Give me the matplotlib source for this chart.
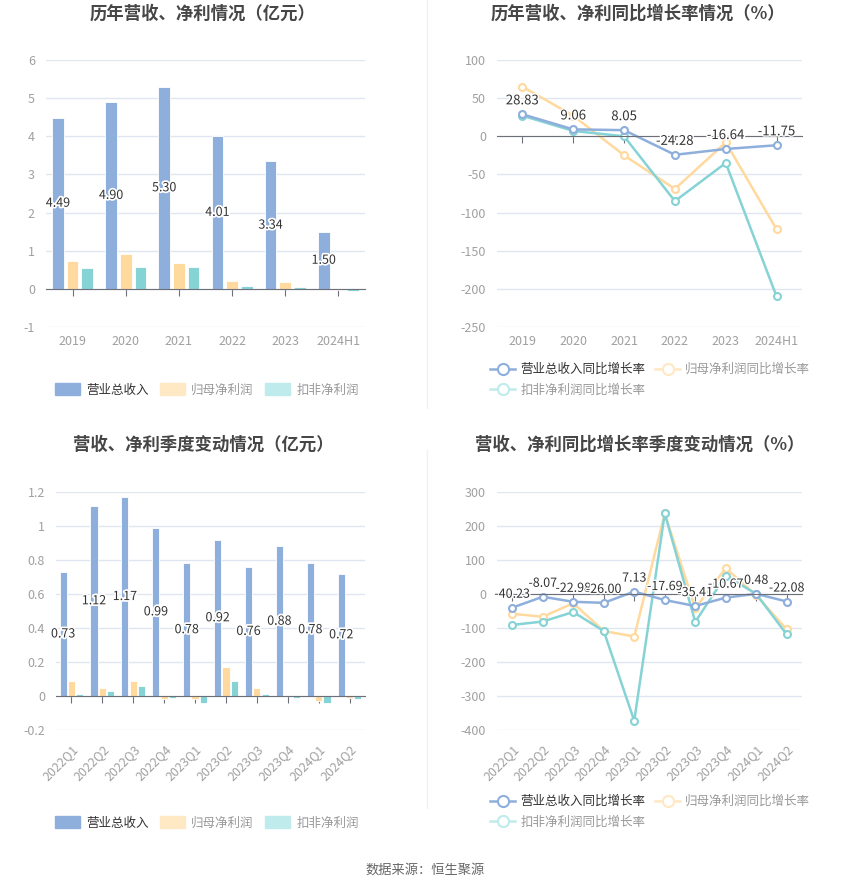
import numpy as np
import matplotlib.pyplot as plt
import matplotlib.patheffects as pe
from matplotlib.lines import Line2D
from matplotlib.patches import Patch

plt.rcParams['font.family'] = ['Noto Sans CJK SC', 'DejaVu Sans']
plt.rcParams['axes.unicode_minus'] = False

# annual data
years = ['2019', '2020', '2021', '2022', '2023', '2024H1']
revenue = [4.49, 4.90, 5.30, 4.01, 3.34, 1.50]
net_profit = [0.72, 0.92, 0.69, 0.20, 0.18, -0.02]
deducted_profit = [0.54, 0.57, 0.57, 0.07, 0.04, -0.05]

rev_growth = [28.83, 9.06, 8.05, -24.28, -16.64, -11.75]
np_growth = [65, 27, -25, -69, -8, -122]
dp_growth = [27, 7, 0, -85, -35, -210]

# quarterly data
quarters = ['2022Q1', '2022Q2', '2022Q3', '2022Q4', '2023Q1', '2023Q2',
            '2023Q3', '2023Q4', '2024Q1', '2024Q2']
q_revenue = [0.73, 1.12, 1.17, 0.99, 0.78, 0.92, 0.76, 0.88, 0.78, 0.72]
q_net_profit = [0.09, 0.05, 0.09, -0.02, -0.02, 0.17, 0.05, 0.00, -0.03, -0.01]
q_deducted = [0.01, 0.03, 0.06, -0.01, -0.04, 0.09, 0.01, -0.01, -0.04, -0.02]

q_rev_growth = [-40.23, -8.07, -22.98, -26.00, 7.13, -17.69, -35.41, -10.67, 0.48, -22.08]
q_np_growth = [-58, -67, -27, -109, -125, 237, -42, 76, -4, -104]
q_dp_growth = [-91, -81, -53, -109, -373, 237, -82, 54, 0, -119]

BLUE = '#8eaedc'
ORANGE = '#ffd99d'
TEAL = '#86d3d6'
ORANGE_L = '#ffe8c4'
TEAL_L = '#c0ebec'
GRID = '#e0e6f1'
AXIS = '#6e7079'
TICK = '#a0a0a0'
TXT = '#333333'

W, H = 850, 891
fig = plt.figure(figsize=(W / 100, H / 100), dpi=100)


def rect(l, t, r, b):
    return [l / W, 1 - b / H, (r - l) / W, (b - t) / H]


def style_axes(ax, cats, ylim, yticks, rotate=False):
    x = np.arange(len(cats))
    ax.set_xlim(-0.5, len(cats) - 0.5)
    ax.set_ylim(*ylim)
    ax.set_yticks(yticks)
    ax.set_yticklabels([f'{v:g}' for v in yticks])
    ax.tick_params(axis='y', length=0, colors=TICK, labelsize=9, pad=8)
    ax.yaxis.grid(True, color=GRID, lw=1)
    ax.set_axisbelow(True)
    for s in ['left', 'right', 'top']:
        ax.spines[s].set_visible(False)
    ax.spines['bottom'].set_position(('data', 0))
    ax.spines['bottom'].set_color(AXIS)
    ax.spines['bottom'].set_zorder(5)
    ax.set_xticks(x)
    ax.tick_params(axis='x', length=5, color=AXIS, labelbottom=False)
    sec = ax.secondary_xaxis('bottom')
    sec.spines['bottom'].set_visible(False)
    if rotate:
        sec.set_xticks(x, labels=cats, rotation=45, ha='right', va='top',
                       rotation_mode='anchor')
        sec.tick_params(length=0, pad=9, colors=TICK, labelsize=9)
    else:
        sec.set_xticks(x, labels=cats)
        sec.tick_params(length=0, pad=6, colors=TICK, labelsize=9)
    return x


def bar_chart(ax, cats, rev, npf, dpf, ylim, yticks, width, off, rotate=False):
    x = style_axes(ax, cats, ylim, yticks, rotate)
    b1 = ax.bar(x - off, rev, width, color=BLUE, edgecolor='white', lw=0.6)
    ax.bar(x, npf, width, color=ORANGE, edgecolor='white', lw=0.6)
    ax.bar(x + off, dpf, width, color=TEAL, edgecolor='white', lw=0.6)
    labels = ax.bar_label(b1, labels=[f'{v:.2f}' for v in rev],
                          label_type='center', fontsize=9, color=TXT)
    for t in labels:
        t.set_path_effects([pe.withStroke(linewidth=2.5, foreground='white')])
        t.set_zorder(6)


def line_chart(ax, cats, g1, g2, g3, ylim, yticks, rotate=False, fs=9.5):
    x = style_axes(ax, cats, ylim, yticks, rotate)
    mk = dict(marker='o', ms=5, mfc='white', mew=1.5, lw=1.8)
    ax.plot(x, g2, color=ORANGE, zorder=3, **mk)
    ax.plot(x, g3, color=TEAL, zorder=3, **mk)
    ax.plot(x, g1, color=BLUE, zorder=4, **mk)
    for xi, v in zip(x, g1):
        ax.annotate(f'{v:.2f}', (xi, v), xytext=(0, 5), textcoords='offset points',
                    ha='center', va='bottom', fontsize=fs, color=TXT, zorder=7,
                    path_effects=[pe.withStroke(linewidth=2, foreground='white')])


# top-left: annual revenue / profit
ax1 = fig.add_axes(rect(46, 60, 365, 327))
bar_chart(ax1, years, revenue, net_profit, deducted_profit, (-1, 6),
          [-1, 0, 1, 2, 3, 4, 5, 6], 0.22, 0.276)

# top-right: annual growth
ax2 = fig.add_axes(rect(497, 60, 802, 327))
line_chart(ax2, years, rev_growth, np_growth, dp_growth, (-250, 100),
           [-250, -200, -150, -100, -50, 0, 50, 100])

# bottom-left: quarterly revenue / profit
ax3 = fig.add_axes(rect(56, 492, 365, 730))
bar_chart(ax3, quarters, q_revenue, q_net_profit, q_deducted, (-0.2, 1.2),
          [-0.2, 0, 0.2, 0.4, 0.6, 0.8, 1.0, 1.2], 0.23, 0.27, rotate=True)

# bottom-right: quarterly growth
ax4 = fig.add_axes(rect(497, 492, 802, 730))
line_chart(ax4, quarters, q_rev_growth, q_np_growth, q_dp_growth, (-400, 300),
           [-400, -300, -200, -100, 0, 100, 200, 300], rotate=True, fs=9)

# titles
title_kw = dict(ha='center', va='center', fontsize=12.5, weight='bold', color='#464646')
fig.text(203 / W, 1 - 14 / H, '历年营收、净利情况（亿元）', **title_kw)
fig.text(638 / W, 1 - 14 / H, '历年营收、净利同比增长率情况（%）', **title_kw)
fig.text(203 / W, 1 - 445 / H, '营收、净利季度变动情况（亿元）', **title_kw)
fig.text(640 / W, 1 - 445 / H, '营收、净利同比增长率季度变动情况（%）', **title_kw)

# legends
bar_handles = [Patch(color=BLUE), Patch(color=ORANGE_L), Patch(color=TEAL_L)]
bar_names = ['营业总收入', '归母净利润', '扣非净利润']
line_handles = [
    Line2D([], [], color=BLUE, marker='o', ms=8, mfc='white', mew=1.5, lw=1.8),
    Line2D([], [], color=TEAL_L, marker='o', ms=8, mfc='white', mew=1.5, lw=1.8),
    Line2D([], [], color=ORANGE_L, marker='o', ms=8, mfc='white', mew=1.5, lw=1.8),
]
line_names = ['营业总收入同比增长率', '扣非净利润同比增长率', '归母净利润同比增长率']
leg_colors_bar = [TXT, '#999999', '#999999']
leg_colors_line = [TXT, '#999999', '#999999']

for yc in (390, 823):
    lg = fig.legend(bar_handles, bar_names, loc='center', ncol=3,
                    bbox_to_anchor=(207 / W, 1 - yc / H), frameon=False,
                    fontsize=9, handlelength=2.0, handleheight=1.1,
                    handletextpad=0.5, columnspacing=0.9)
    for t, c in zip(lg.get_texts(), leg_colors_bar):
        t.set_color(c)

for yc in (368, 800):
    lg = fig.legend(line_handles, line_names, loc='upper left', ncol=2,
                    bbox_to_anchor=(484 / W, 1 - (yc - 11) / H), frameon=False,
                    fontsize=9, handlelength=2.0, handletextpad=0.4,
                    columnspacing=0.8, labelspacing=0.6, borderpad=0)
    for t, c in zip(lg.get_texts(), leg_colors_line):
        t.set_color(c)

# dividers
fig.add_artist(Line2D([427 / W, 427 / W], [1, 1 - 408 / H], color='#f0f0f0', lw=1))
fig.add_artist(Line2D([427 / W, 427 / W], [1 - 450 / H, 1 - 808 / H], color='#f0f0f0', lw=1))

fig.text(0.5, 1 - 870 / H, '数据来源：恒生聚源', ha='center', va='center',
         fontsize=9.5, color='#666666')

fig.savefig('out.png', dpi=100, facecolor='white')
